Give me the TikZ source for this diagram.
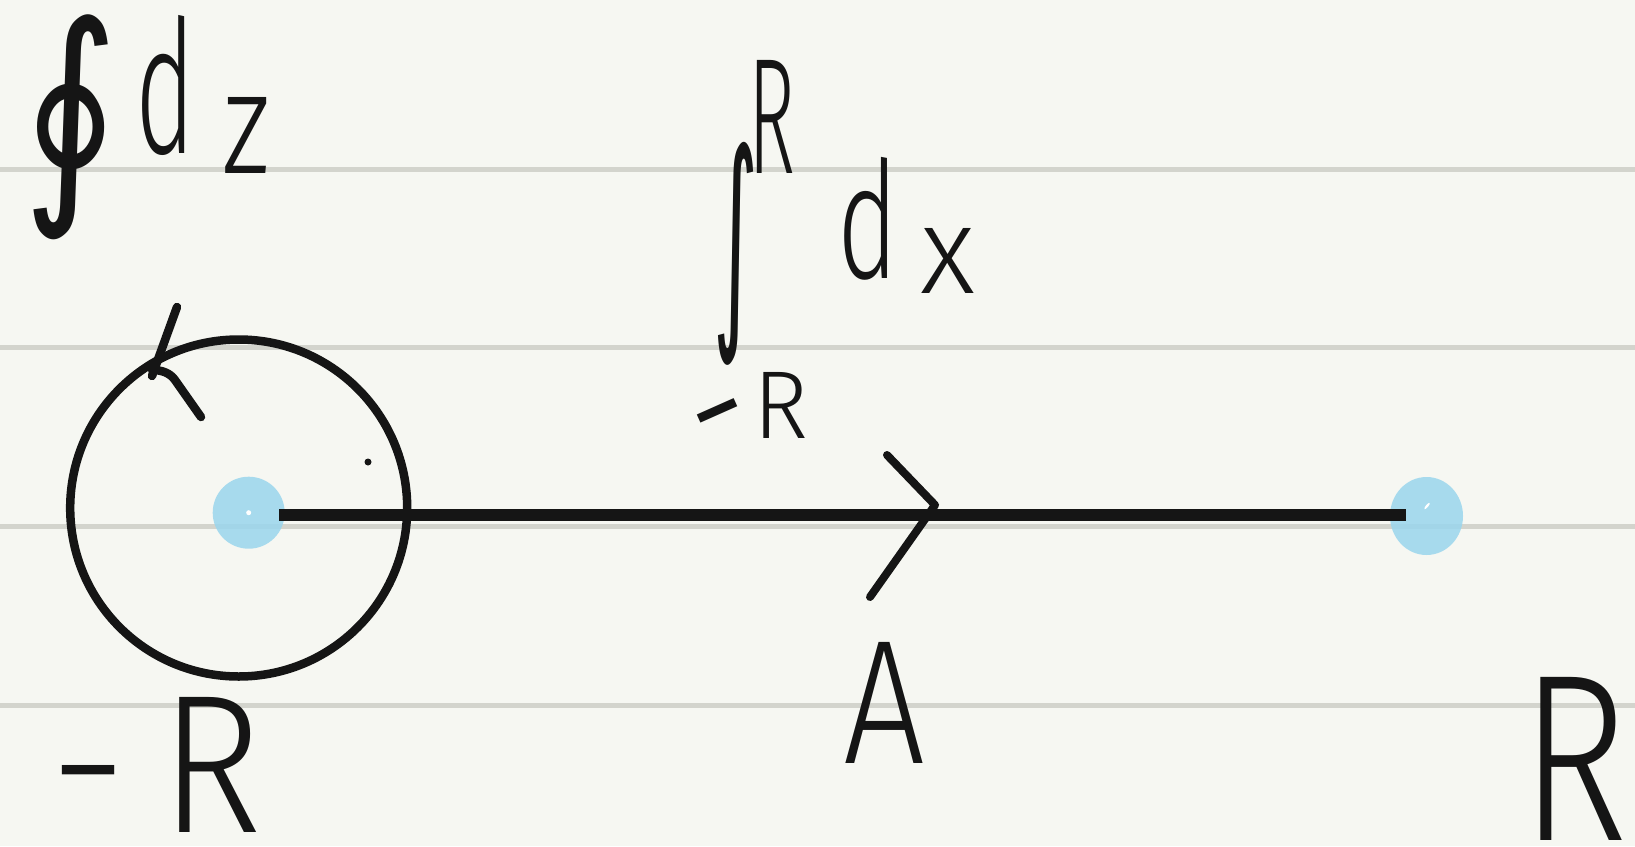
\documentclass[tikz,border=0pt]{standalone}
\usepackage{graphicx}
\usepackage{fontspec}
\newfontfamily\hand{Fira Sans Light}
\newfontfamily\sym{DejaVu Sans}
\usetikzlibrary{shapes.geometric}
\definecolor{paper}{HTML}{F6F7F2}
\definecolor{rulegray}{HTML}{D3D4CD}
\definecolor{ink}{HTML}{151515}
\definecolor{dotblue}{HTML}{9AD6ED}
\begin{document}
\begin{tikzpicture}[x=1pt,y=-1pt,
  inkline/.style={draw=ink,line width=8.5pt,line cap=round,line join=round},
  ruling/.style={draw=rulegray,line width=5pt},
  glyph/.style={inner sep=0pt,outer sep=0pt,anchor=north west,text=ink,font=\hand},
  dashglyph/.style={inner sep=0pt,outer sep=0pt,anchor=north,text=ink,font=\sym},
  bluedot/.style={fill=dotblue,fill opacity=0.85,inner sep=0pt,draw=none}]
\useasboundingbox (0,0) rectangle (1635,846);
\fill[paper] (0,0) rectangle (1635,846);
\foreach \y in {169,347,526,705} \draw[ruling] (0,\y) -- (1635,\y);

% contour circle
\node[circle,draw=ink,line width=8.5pt,minimum size=337pt,inner sep=0pt] (C) at (238.7,508) {};
% blue points
\node[bluedot,circle,minimum size=72pt] (P) at (248.7,512.7) {};
\node[bluedot,ellipse,minimum width=73pt,minimum height=78pt] (Q) at (1426.5,516) {};
\fill[white] (P.center) circle (2.5);
\fill[white,rotate around={-40:(Q.center)}] ([xshift=-6pt,yshift=8pt]Q.center) ellipse (1.2 and 4);

% segment
\coordinate (L0) at (279,515);
\coordinate (L1) at (1406,515);
\draw[ink,line width=12.5pt] (L0) -- (L1);

% arrowhead on segment
\coordinate (a1) at (887,455);
\coordinate (a2) at (935,505);
\coordinate (a3) at (870,597);
\draw[inkline,line width=8pt] (a1) -- (a2) -- (a3);

% arrowhead on circle
\coordinate (c1) at (177,307);
\coordinate (c2) at (152,376);
\coordinate (c3) at (152,370);
\coordinate (c4) at (175,380);
\coordinate (c5) at (201,417);
\draw[inkline] (c1) -- (c2);
\draw[inkline] (c3) .. controls (162,370) and (170,373) .. (c4) -- (c5);

% small dot
\fill[ink] (368,462) circle (3.5);

% texts
\node[glyph] (oint) at (23,15) {\resizebox*{95pt}{225pt}{\sym ∮}};
\node[glyph] (d1) at (135,15) {\resizebox*{60pt}{140pt}{d}};
\node[glyph] (z1) at (222,97) {\resizebox*{48pt}{76pt}{z}};

\node[glyph] (int) at (713,142) {\resizebox*{45pt}{223pt}{\sym ∫}};
\node[glyph] (Rup) at (748,60) {\resizebox*{47pt}{113pt}{R}};
\node[glyph] (d2) at (837,157) {\resizebox*{61pt}{123pt}{d}};
\node[glyph] (x2) at (920,228) {\resizebox*{55pt}{65pt}{x}};
\node[dashglyph,rotate=24] (m2) at (716,406.5) {\resizebox{54pt}{38pt}{−}};
\node[glyph] (R2) at (753,372) {\resizebox*{55pt}{66pt}{R}};

\node[dashglyph] (m3) at (89,765) {\resizebox{70pt}{40pt}{−}};
\node[glyph] (R3) at (160,697) {\resizebox*{102pt}{135pt}{R}};

\node[glyph] (A) at (843,642) {\resizebox*{82pt}{121pt}{A}};
\node[glyph] (R4) at (1520,677) {\resizebox*{108pt}{163pt}{R}};
\end{tikzpicture}
\end{document}
